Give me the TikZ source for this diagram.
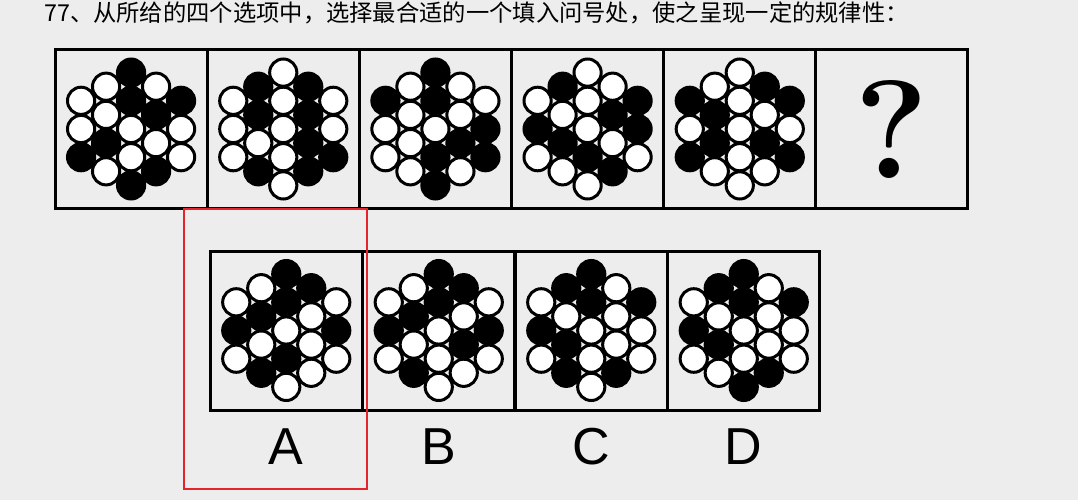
\documentclass[tikz,border=0pt]{standalone}
\usepackage{fontspec}
\newfontfamily\arial{Liberation Sans}
\newfontfamily\cjk{Noto Sans CJK SC}

\definecolor{paper}{HTML}{EDEDED}
\definecolor{answer}{HTML}{E3252B}
\colorlet{dot0}{white}
\colorlet{dot1}{black}

\tikzset{
  cell/.style={draw, line width=3pt, minimum width=152pt, minimum height=159pt, inner sep=0pt},
  ball/.style={draw, line width=3pt},
  choice/.style={inner sep=0pt, font=\arial\fontsize{52}{52}\selectfont},
}

% 19 discs in a hexagon, one argument per column (top to bottom), 1 = black
\newcommand{\hexdots}[6]{%
  \begin{scope}[shift={(#1)}]
    \foreach \b [count=\k] in {#2} \draw[ball, fill=dot\b] (-50, {(\k-2)*28.2}) circle (13.6pt);
    \foreach \b [count=\k] in {#3} \draw[ball, fill=dot\b] (-25, {(\k-2.5)*28.2}) circle (13.6pt);
    \foreach \b [count=\k] in {#4} \draw[ball, fill=dot\b] (0, {(\k-3)*28.2}) circle (13.6pt);
    \foreach \b [count=\k] in {#5} \draw[ball, fill=dot\b] (25, {(\k-2.5)*28.2}) circle (13.6pt);
    \foreach \b [count=\k] in {#6} \draw[ball, fill=dot\b] (50, {(\k-2)*28.2}) circle (13.6pt);
  \end{scope}}

\begin{document}
\begin{tikzpicture}[x=1pt, y=-1pt]
  \fill[paper] (0,0) rectangle (1078,500);
  \useasboundingbox (0,0) rectangle (1078,500);

  \node[anchor=west, inner sep=0pt, font=\cjk\fontsize{23.3}{23.3}\selectfont] (title) at (44,13)
    {77、从所给的四个选项中，选择最合适的一个填入问号处，使之呈现一定的规律性：};

  % question row
  \foreach \i in {1,...,6}
    \node[cell] (p\i) at ({55+152.17*(\i-0.5)},129) {};
  % answer row
  \foreach \i in {1,...,4}
    \node[cell] (o\i) at ({210+152.5*(\i-0.5)},330.5) {};

  \hexdots{p1.center}{0,0,1}{0,0,1,0}{1,1,0,0,1}{0,1,0,1}{1,0,0}
  \hexdots{p2.center}{0,0,0}{1,1,0,1}{0,0,0,0,0}{1,1,1,1}{0,0,1}
  \hexdots{p3.center}{1,0,0}{0,0,0,0}{1,1,0,1,1}{0,0,1,0}{0,1,1}
  \hexdots{p4.center}{0,1,0}{1,0,1,0}{0,0,0,1,0}{0,1,0,1}{1,1,0}
  \hexdots{p5.center}{1,0,1}{0,1,1,0}{0,0,0,0,0}{1,0,1,0}{1,0,1}
  \node[inner sep=0pt, font=\bfseries\fontsize{140}{140}\selectfont] (qm) at (p6.center) {?};

  \hexdots{o1.center}{0,1,0}{0,1,0,1}{1,1,0,1,0}{1,0,0,0}{0,1,0}
  \hexdots{o2.center}{0,1,0}{0,1,0,1}{1,1,0,0,0}{1,0,1,0}{0,1,0}
  \hexdots{o3.center}{0,1,0}{1,0,1,1}{1,1,0,0,0}{0,0,0,1}{1,0,0}
  \hexdots{o4.center}{0,1,0}{1,0,1,0}{1,1,0,0,1}{0,0,0,1}{1,0,0}

  \foreach \i/\t in {1/A,2/B,3/C,4/D}
    \node[choice] (l\i) at ({210+152.5*(\i-0.5)},447) {\t};

  \draw[answer, line width=2pt] (184,209) rectangle (367,489);
\end{tikzpicture}
\end{document}
